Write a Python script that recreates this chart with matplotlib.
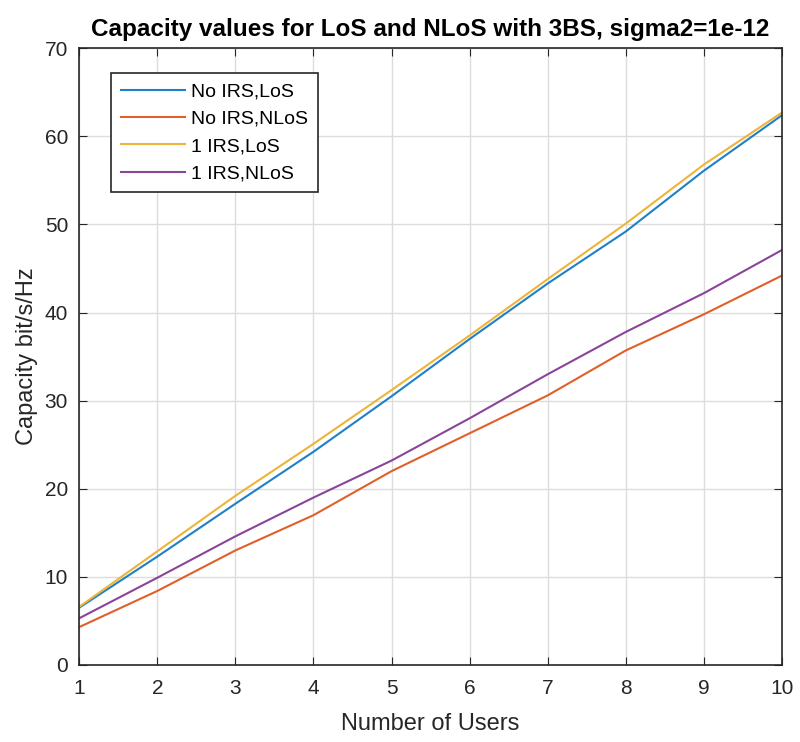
import matplotlib
matplotlib.use("Agg")
import matplotlib.pyplot as plt

users = [1, 2, 3, 4, 5, 6, 7, 8, 9, 10]
no_irs_los = [6.5, 12.3, 18.3, 24.2, 30.5, 37.0, 43.3, 49.2, 56.1, 62.4]
no_irs_nlos = [4.3, 8.4, 13.0, 17.0, 22.0, 26.3, 30.6, 35.7, 39.8, 44.2]
irs_los = [6.6, 12.9, 19.2, 25.1, 31.2, 37.4, 43.8, 50.1, 56.8, 62.7]
irs_nlos = [5.3, 9.9, 14.6, 19.0, 23.2, 28.0, 33.0, 37.8, 42.2, 47.1]
labels = ["No IRS,LoS", "No IRS,NLoS", "1 IRS,LoS", "1 IRS,NLoS"]
colors = ["#1F80C8", "#E0602A", "#EDB43A", "#8A4499"]

plt.rcParams['font.family'] = ['Liberation Sans', 'DejaVu Sans']
fig = plt.figure(figsize=(8, 7.42), dpi=100)
ax = fig.add_axes([0.099, 0.1038, 0.8785, 0.8312])
for ys, lab, c in zip([no_irs_los, no_irs_nlos, irs_los, irs_nlos], labels, colors):
    ax.plot(users, ys, color=c, lw=1.5, label=lab)

ax.set_xlim(1, 10)
ax.set_ylim(0, 70)
ax.set_xticks(range(1, 11))
ax.set_yticks(range(0, 71, 10))
ax.grid(True, color='#DCDCDC', lw=1)
ax.set_axisbelow(True)
ax.tick_params(direction='in', top=True, right=True, labelsize=15, colors='#262626', length=6)
ax.tick_params(axis='x', pad=10)
ax.tick_params(axis='y', pad=8)
for s in ax.spines.values():
    s.set_color('#262626')
    s.set_linewidth(1.2)
ax.set_xlabel("Number of Users", fontsize=17, color='#262626', labelpad=11)
ax.set_ylabel("Capacity bit/s/Hz", fontsize=17, color='#262626', labelpad=5)
ax.set_title("Capacity values for LoS and NLoS with 3BS, sigma2=1e-12", fontsize=17.5, fontweight='bold', pad=9)
leg = ax.legend(loc='upper left', bbox_to_anchor=(0.0455, 0.9595), borderaxespad=0, fontsize=14, fancybox=False,
                edgecolor='#262626', framealpha=1, handlelength=3.3, borderpad=0.5, labelspacing=0.5, handletextpad=0.3)
leg.get_frame().set_linewidth(1.2)
fig.savefig("out.png", dpi=100)
